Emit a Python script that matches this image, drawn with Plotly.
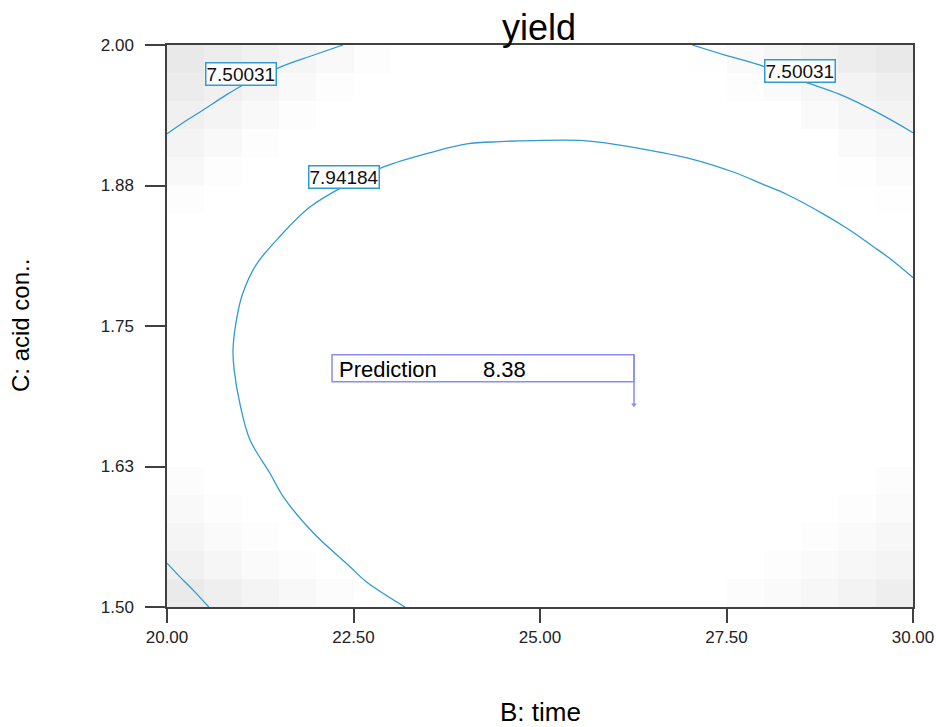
import plotly.graph_objects as go

# ---- data ----
x_range = [20.0, 30.0]
y_range = [1.50, 2.00]
x_tickvals = [20.0, 22.5, 25.0, 27.5, 30.0]
x_ticktext = ["20.00", "22.50", "25.00", "27.50", "30.00"]
y_tickvals = [1.50, 1.625, 1.75, 1.875, 2.00]
y_ticktext = ["1.50", "1.63", "1.75", "1.88", "2.00"]

level_hi = "7.94184"
level_lo = "7.50031"

# contour 7.94184
c794_x = [23.19, 22.68, 22.45, 21.96, 21.56, 21.38, 21.11, 20.98, 20.90, 20.885,
          20.93, 21.01, 21.19, 21.49, 21.92, 22.39, 22.92, 23.57, 24.02, 24.46,
          24.91, 25.58, 26.07, 26.25, 27.01, 27.59, 27.99, 28.31, 28.79, 29.16,
          29.46, 29.69, 30.00]
c794_y = [1.500, 1.522, 1.536, 1.566, 1.598, 1.619, 1.649, 1.680, 1.711, 1.729,
          1.755, 1.778, 1.804, 1.828, 1.856, 1.875, 1.892, 1.905, 1.912, 1.914,
          1.915, 1.915, 1.911, 1.909, 1.899, 1.887, 1.876, 1.867, 1.850, 1.835,
          1.821, 1.810, 1.793]

# contour 7.50031 (three pieces)
c750a_x = [20.00, 20.24, 20.48, 20.78, 21.01, 21.54, 21.92, 22.36]
c750a_y = [1.921, 1.932, 1.942, 1.955, 1.964, 1.981, 1.990, 2.000]
c750b_x = [27.04, 27.48, 27.95, 28.51, 29.02, 29.52, 30.00]
c750b_y = [2.000, 1.991, 1.982, 1.968, 1.956, 1.940, 1.922]
c750c_x = [20.00, 20.17, 20.35, 20.56]
c750c_y = [1.539, 1.527, 1.515, 1.500]

# contour label positions
label_x = [20.99, 22.37, 28.49]
label_y = [1.974, 1.883, 1.977]
label_txt = [level_lo, level_hi, level_lo]

# prediction flag
pred_x = 26.26
pred_y = 1.680
pred_label = "Prediction"
pred_value = "8.38"

# background shading (grey level per cell, 20 x 20, top row = y 2.00)
W = 255
shade_rows = [
    [233, 237, 241, 245, 249, 253, W, W, W, W, W, W, W, W, 254, 250, 246, 242, 237, 233],
    [236, 240, 244, 249, 253, W, W, W, W, W, W, W, W, W, W, 253, 250, 246, 243, 239],
    [240, 244, 249, 253, W, W, W, W, W, W, W, W, W, W, W, W, W, 250, 246, 243],
    [244, 249, 253, W, W, W, W, W, W, W, W, W, W, W, W, W, W, W, 250, 247],
    [248, 253, W, W, W, W, W, W, W, W, W, W, W, W, W, W, W, W, 254, 251],
    [253, W, W, W, W, W, W, W, W, W, W, W, W, W, W, W, W, W, W, 254],
    [W] * 20,
    [W] * 20,
    [W] * 20,
    [W] * 20,
    [W] * 20,
    [W] * 20,
    [W] * 20,
    [W] * 20,
    [W] * 20,
    [252, W, W, W, W, W, W, W, W, W, W, W, W, W, W, W, W, W, W, 252],
    [249, 253, W, W, W, W, W, W, W, W, W, W, W, W, W, W, W, W, 253, 250],
    [245, 250, 253, W, W, W, W, W, W, W, W, W, W, W, W, W, W, 253, 250, 247],
    [241, 246, 250, 253, W, W, W, W, W, W, W, W, W, W, W, W, 253, 250, 247, 244],
    [234, 239, 244, 248, 252, W, W, W, W, W, W, W, W, W, W, 252, 250, 247, 243, 238],
]

# ---- figure ----
line_col = "#2f9bd0"
flag_col = "#8a8cf2"
axis_col = "#404040"
font_fam = "Liberation Sans, Arial, sans-serif"

n_rows = len(shade_rows)
n_cols = len(shade_rows[0])
dx = (x_range[1] - x_range[0]) / n_cols
dy = (y_range[1] - y_range[0]) / n_rows

fig = go.Figure()
fig.add_trace(go.Heatmap(
    z=shade_rows[::-1],
    x0=x_range[0] + dx / 2, dx=dx,
    y0=y_range[0] + dy / 2, dy=dy,
    zmin=0, zmax=255,
    colorscale=[[0, "rgb(0,0,0)"], [1, "rgb(255,255,255)"]],
    showscale=False, hoverinfo="skip", zsmooth=False,
))

for xs, ys in [(c794_x, c794_y), (c750a_x, c750a_y), (c750b_x, c750b_y), (c750c_x, c750c_y)]:
    fig.add_trace(go.Scatter(x=xs, y=ys, mode="lines",
                             line=dict(color=line_col, width=1.3, shape="spline", smoothing=1.0),
                             hoverinfo="skip", showlegend=False))

# prediction point marker
fig.add_trace(go.Scatter(x=[pred_x], y=[pred_y], mode="markers",
                         marker=dict(symbol="triangle-down", size=5, color=flag_col),
                         hoverinfo="skip", showlegend=False))

annotations = []
for lx, ly, lt in zip(label_x, label_y, label_txt):
    annotations.append(dict(x=lx, y=ly, xref="x", yref="y", text=lt, showarrow=False,
                            font=dict(family=font_fam, size=19, color="#111111"),
                            bgcolor="white", bordercolor=line_col, borderwidth=1.5, borderpad=0))

annotations.append(dict(x=pred_x, y=pred_y, xref="x", yref="y", text=pred_label, showarrow=False,
                        xanchor="left", yanchor="middle", xshift=-297, yshift=35,
                        font=dict(family=font_fam, size=22, color="black")))
annotations.append(dict(x=pred_x, y=pred_y, xref="x", yref="y", text=pred_value, showarrow=False,
                        xanchor="left", yanchor="middle", xshift=-153, yshift=35,
                        font=dict(family=font_fam, size=22, color="black")))

# axis titles
annotations.append(dict(x=0.5, y=-0.187, xref="paper", yref="paper", text="B: time", showarrow=False,
                        xanchor="center", yanchor="middle",
                        font=dict(family=font_fam, size=26, color="black")))
annotations.append(dict(x=-0.197, y=0.5, xref="paper", yref="paper", text="C: acid con..", showarrow=False,
                        xanchor="center", yanchor="middle", textangle=-90,
                        font=dict(family=font_fam, size=24, color="black")))

shapes = [
    dict(type="rect", xref="x", yref="y", xsizemode="pixel", ysizemode="pixel",
         xanchor=pred_x, yanchor=pred_y, x0=-302, x1=0, y0=23, y1=50,
         line=dict(color=flag_col, width=1.5), fillcolor="white", layer="above"),
    dict(type="line", xref="x", yref="y", xsizemode="pixel", ysizemode="pixel",
         xanchor=pred_x, yanchor=pred_y, x0=0, x1=0, y0=0, y1=50,
         line=dict(color=flag_col, width=1.5), layer="above"),
]

fig.update_layout(
    width=936, height=727,
    margin=dict(l=167, r=23, t=45, b=120, autoexpand=False),
    paper_bgcolor="white", plot_bgcolor="white",
    title=dict(text="yield", x=539 / 936, xref="container", xanchor="center",
               y=1 - 27 / 727, yref="container", yanchor="middle",
               font=dict(family=font_fam, size=36, color="black")),
    annotations=annotations, shapes=shapes,
    showlegend=False,
)
fig.update_xaxes(range=x_range, tickvals=x_tickvals, ticktext=x_ticktext, automargin=False,
                 showgrid=False, zeroline=False, showline=True, linecolor=axis_col, linewidth=1.5,
                 mirror=True, ticks="outside", ticklen=14, tickcolor=axis_col, tickwidth=1.5,
                 ticklabelstandoff=0,
                 tickfont=dict(family=font_fam, size=17, color="#222222"))
fig.update_yaxes(range=y_range, tickvals=y_tickvals, ticktext=y_ticktext, automargin=False,
                 showgrid=False, zeroline=False, showline=True, linecolor=axis_col, linewidth=1.5,
                 mirror=True, ticks="outside", ticklen=20, tickcolor=axis_col, tickwidth=1.5,
                 ticklabelstandoff=8,
                 tickfont=dict(family=font_fam, size=17, color="#222222"))

fig.write_html("out.html")
